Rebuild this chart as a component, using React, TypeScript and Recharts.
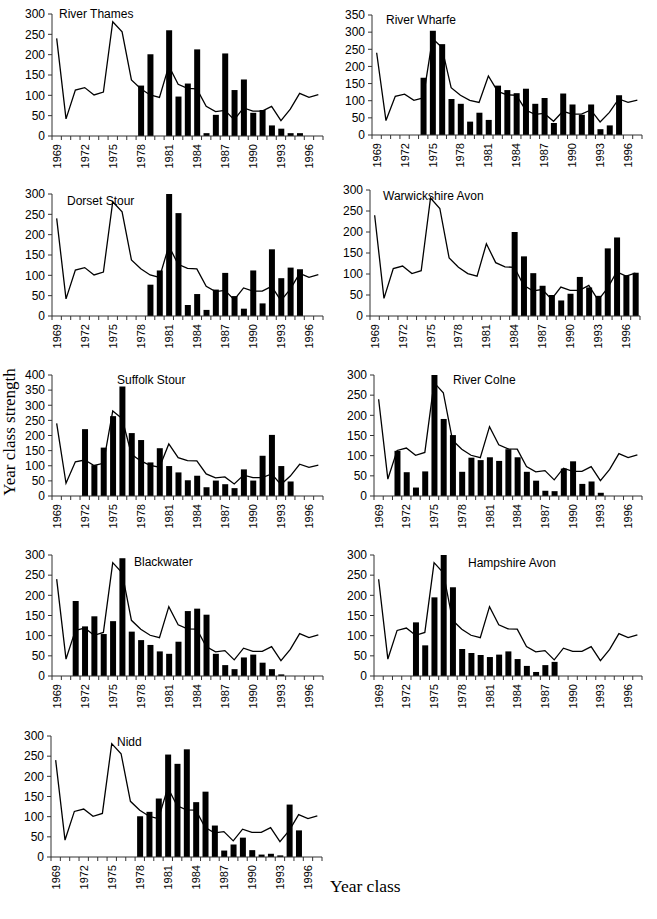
import { ComposedChart, Bar, Line, XAxis, YAxis } from "recharts";

const YEARS = [
  "1969", "1970", "1971", "1972", "1973", "1974", "1975", "1976", "1977", "1978",
  "1979", "1980", "1981", "1982", "1983", "1984", "1985", "1986", "1987", "1988",
  "1989", "1990", "1991", "1992", "1993", "1994", "1995", "1996", "1997",
];

// reference line, the same in every panel
const REFERENCE = [
  240, 42, 113, 119, 101, 108, 281, 256, 138, 116, 101, 95, 172, 127, 117, 116, 73, 60,
  63, 40, 69, 61, 61, 73, 38, 66, 105, 95, 102,
];

// river bars, each starting at the given year
const THAMES_START = 1978;
const THAMES = [124, 201, null, 260, 97, 129, 213, 7, 52, 203, 113, 139, 57, 64, 26, 18, 7, 7];
const WHARFE_START = 1974;
const WHARFE = [167, 304, 265, 105, 91, 39, 65, 44, 144, 131, 122, 135, 91, 108, 35, 121, 89, 59, 89, 17, 28, 116];
const DORSET_START = 1979;
const DORSET = [77, 112, 307, 253, 27, 54, 15, 65, 106, 49, 18, 112, 31, 164, 93, 119, 115];
const WARWICK_START = 1984;
const WARWICK = [200, 142, 102, 72, 50, 37, 53, 93, 68, 48, 161, 187, 97, 103];
const SUFFOLK_START = 1972;
const SUFFOLK = [221, 102, 160, 264, 362, 208, 185, 111, 158, 99, 78, 52, 67, 29, 51, 39, 26, 88, 51, 133, 202, 99, 48];
const COLNE_START = 1971;
const COLNE = [112, 59, 21, 61, 307, 191, 151, 60, 95, 89, 96, 87, 116, 96, 60, 38, 13, 12, 68, 86, 30, 36, 8];
const BLACKWATER_START = 1971;
const BLACKWATER = [186, 123, 148, 104, 136, 292, 110, 89, 77, 61, 55, 85, 161, 167, 152, 55, 27, 17, 46, 53, 33, 17, 4];
const HAMPSHIRE_START = 1973;
const HAMPSHIRE = [133, 76, 195, 307, 220, 67, 57, 52, 47, 53, 61, 42, 25, 10, 27, 35];
const NIDD_START = 1978;
const NIDD = [101, 112, 145, 254, 231, 267, 136, 162, 78, 16, 31, 48, 17, 6, 8, 4, 130, 66];

const TICKS_300 = [0, 50, 100, 150, 200, 250, 300];
const TICKS_350 = [0, 50, 100, 150, 200, 250, 300, 350];
const TICKS_400 = [0, 50, 100, 150, 200, 250, 300, 350, 400];

const SANS = "'Liberation Sans', Arial, sans-serif";
const SERIF = "'Liberation Serif', 'Times New Roman', serif";

const panels = [
  { name: "River Thames", start: THAMES_START, values: THAMES, ticks: TICKS_300, left: 52, width: 271, top: 14, bottom: 136, tx: 59, ty: 14 },
  { name: "River Wharfe", start: WHARFE_START, values: WHARFE, ticks: TICKS_350, left: 372, width: 270, top: 15, bottom: 135, tx: 386, ty: 20 },
  { name: "Dorset Stour", start: DORSET_START, values: DORSET, ticks: TICKS_300, left: 52, width: 271, top: 194, bottom: 316, tx: 67, ty: 201 },
  { name: "Warwickshire Avon", start: WARWICK_START, values: WARWICK, ticks: TICKS_300, left: 370, width: 270, top: 190, bottom: 316, tx: 383, ty: 196 },
  { name: "Suffolk Stour", start: SUFFOLK_START, values: SUFFOLK, ticks: TICKS_400, left: 52, width: 271, top: 375, bottom: 496, tx: 117, ty: 380 },
  { name: "River Colne", start: COLNE_START, values: COLNE, ticks: TICKS_300, left: 374, width: 268, top: 375, bottom: 496, tx: 453, ty: 380 },
  { name: "Blackwater", start: BLACKWATER_START, values: BLACKWATER, ticks: TICKS_300, left: 52, width: 271, top: 555, bottom: 676, tx: 134, ty: 562 },
  { name: "Hampshire Avon", start: HAMPSHIRE_START, values: HAMPSHIRE, ticks: TICKS_300, left: 374, width: 268, top: 555, bottom: 676, tx: 468, ty: 563 },
  { name: "Nidd", start: NIDD_START, values: NIDD, ticks: TICKS_300, left: 51, width: 271, top: 736, bottom: 857, tx: 117, ty: 742 },
];

const MT = 12;
const YW = 52;
const MR = 8;

function YearTick(props: any) {
  const { x, payload, index, axisY, bw, count } = props;
  const label = index % 3 === 0;
  const ly = axisY + 8;
  return (
    <g>
      <line x1={x - bw / 2} x2={x - bw / 2} y1={axisY} y2={axisY + 4} stroke="#333" />
      {index === count - 1 && (
        <line x1={x + bw / 2} x2={x + bw / 2} y1={axisY} y2={axisY + 4} stroke="#333" />
      )}
      {label && (
        <text
          x={x}
          y={ly}
          transform={`rotate(-90 ${x} ${ly})`}
          textAnchor="end"
          dominantBaseline="central"
          fontSize={11}
          fontFamily={SANS}
          fill="#000"
        >
          {payload.value}
        </text>
      )}
    </g>
  );
}

function Panel({ p }: { p: (typeof panels)[number] }) {
  const plotH = p.bottom - p.top;
  const W = YW + p.width + MR;
  const H = MT + plotH + 40;
  const bw = p.width / YEARS.length;
  const data = YEARS.map((y, i) => {
    const k = Number(y) - p.start;
    const v = k >= 0 && k < p.values.length ? p.values[k] : null;
    return { year: y, baseline: REFERENCE[i], v };
  });
  const yMax = p.ticks[p.ticks.length - 1];
  return (
    <div style={{ position: "absolute", left: p.left - YW, top: p.top - MT }}>
      <ComposedChart width={W} height={H} data={data} margin={{ top: MT, right: MR, left: 0, bottom: 0 }}>
        <XAxis
          dataKey="year"
          interval={0}
          height={40}
          stroke="#333"
          tickLine={false}
          tick={(tp: any) => (
            <YearTick
              x={tp.x}
              payload={tp.payload}
              index={tp.index}
              axisY={MT + plotH}
              bw={bw}
              count={YEARS.length}
            />
          )}
        />
        <YAxis
          width={YW}
          domain={[0, yMax]}
          ticks={p.ticks}
          interval={0}
          allowDataOverflow
          stroke="#333"
          tickSize={4}
          tickMargin={3}
          tick={{ fontSize: 12, fill: "#000", fontFamily: SANS }}
        />
        <Line
          dataKey="baseline"
          type="linear"
          stroke="#000"
          strokeWidth={1.3}
          dot={false}
          isAnimationActive={false}
        />
        <Bar dataKey="v" fill="#000" barSize={6} isAnimationActive={false} />
      </ComposedChart>
      <div
        style={{
          position: "absolute",
          left: p.tx - (p.left - YW),
          top: p.ty - p.top + MT - 7,
          fontFamily: SANS,
          fontSize: 12,
          lineHeight: "14px",
          whiteSpace: "nowrap",
          color: "#000",
        }}
      >
        {p.name}
      </div>
    </div>
  );
}

export default function App() {
  return (
    <div
      style={{
        position: "absolute",
        left: 0,
        top: 0,
        width: 657,
        height: 919,
        background: "#fff",
        overflow: "hidden",
      }}
    >
      {panels.map((p) => (
        <Panel key={p.name} p={p} />
      ))}
      <div
        style={{
          position: "absolute",
          left: 10 - 80,
          top: 432 - 10,
          width: 160,
          height: 20,
          lineHeight: "20px",
          textAlign: "center",
          transform: "rotate(-90deg)",
          fontFamily: SERIF,
          fontSize: 17,
          whiteSpace: "nowrap",
          color: "#000",
        }}
      >
        Year class strength
      </div>
      <div
        style={{
          position: "absolute",
          left: 330,
          top: 876,
          lineHeight: "20px",
          fontFamily: SERIF,
          fontSize: 17.5,
          whiteSpace: "nowrap",
          color: "#000",
        }}
      >
        Year class
      </div>
    </div>
  );
}
